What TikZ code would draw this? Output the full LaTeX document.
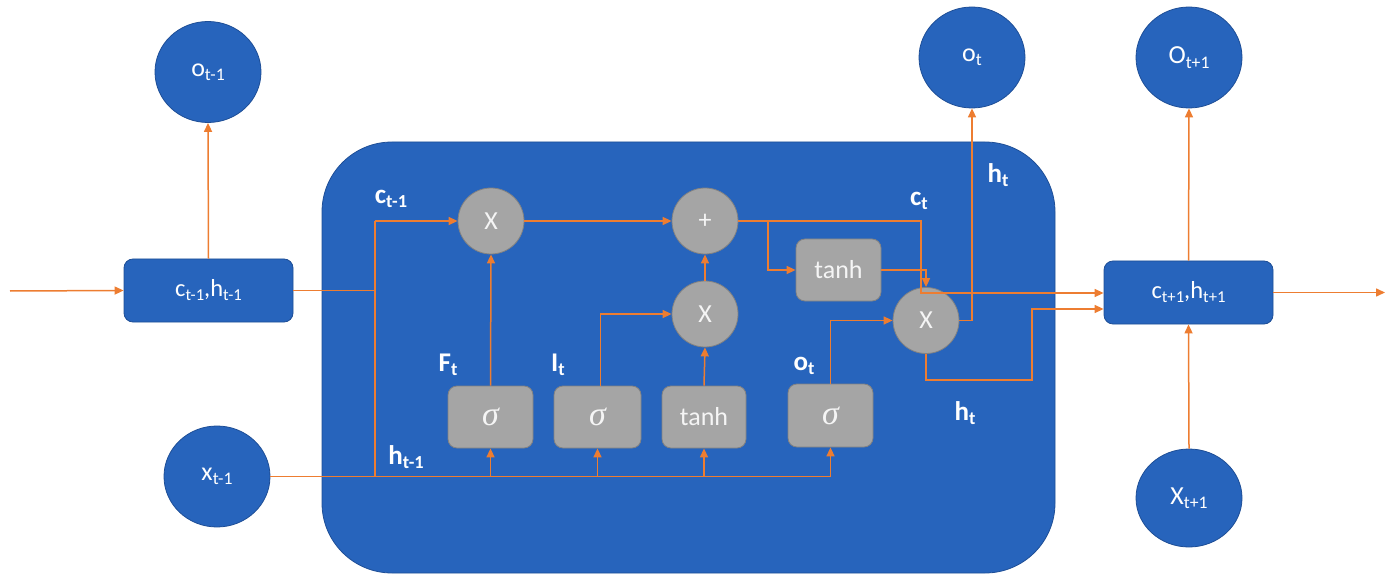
\documentclass[tikz,border=0pt]{standalone}
\usepackage{fontspec}
\setmainfont{Carlito}
\newfontfamily\sigfont{Liberation Serif}
\usepackage{graphicx}
\usetikzlibrary{arrows.meta,shapes.geometric}
\newcommand{\lowsub}[1]{\raisebox{-0.35ex}{\scalebox{0.68}{#1}}}
\newcommand{\sigsym}{{\sigfont\itshape σ}}
\definecolor{cellblue}{RGB}{39,100,188}
\definecolor{blueedge}{RGB}{30,78,150}
\definecolor{opgray}{RGB}{165,165,165}
\definecolor{opedge}{RGB}{130,130,130}
\definecolor{lineorange}{RGB}{237,125,49}
\definecolor{optext}{RGB}{245,245,245}
\tikzset{
  bluecirc/.style={ellipse, fill=cellblue, draw=blueedge, line width=0.8pt, minimum width=106, minimum height=101, inner sep=0pt, text=white, font=\fontsize{26}{30}\selectfont},
  bluebox/.style={rectangle, rounded corners=9pt, fill=cellblue, draw=blueedge, line width=0.8pt, minimum width=169, minimum height=63, inner sep=0pt, text=white, font=\fontsize{24.5}{28}\selectfont},
  opnode/.style={circle, fill=opgray, draw=opedge, line width=0.8pt, minimum size=66, inner sep=0pt, text=optext, font=\fontsize{26}{30}\selectfont},
  gate/.style={rectangle, rounded corners=9pt, fill=opgray, draw=opedge, line width=0.8pt, minimum width=85, minimum height=62, inner sep=0pt, text=optext, font=\fontsize{26}{30}\selectfont},
  sig/.style={gate, font=\fontsize{34}{38}\selectfont},
  lbl/.style={text=white, inner sep=0pt, font=\bfseries\fontsize{27}{30}\selectfont},
  flow/.style={draw=lineorange, line width=1.5pt},
  arr/.style={flow, -{Triangle[length=9pt,width=8pt]}}
}
\begin{document}
\begin{tikzpicture}[x=1pt,y=-1pt]
\useasboundingbox (0,0) rectangle (1394,577);
% big cell
\node (cell) [draw=blueedge, fill=cellblue, line width=0.8pt, rounded corners=70pt, minimum width=733, minimum height=431, inner sep=0pt] at (688.5,357.5) {};
% outer nodes
\node (ot1) [bluecirc] at (208,72) {o\lowsub{t-1}};
\node (box1) [bluebox] at (208.5,290.5) {c\lowsub{t-1},h\lowsub{t-1}};
\node (x1) [bluecirc] at (217,476.5) {x\lowsub{t-1}};
\node (ot) [bluecirc] at (972,57.5) {o\lowsub{t}};
\node (Ot1) [bluecirc] at (1189,57.5) {O\lowsub{t+1}};
\node (box2) [bluebox] at (1188.5,292.5) {c\lowsub{t+1},h\lowsub{t+1}};
\node (Xt1) [bluecirc, minimum height=98] at (1189,498) {X\lowsub{t+1}};
% operations
\node (X1) [opnode] at (491,221) {X};
\node (plus) [opnode] at (705,221) {+};
\node (X2) [opnode] at (705,314) {X};
\node (X3) [opnode] at (926,320.5) {X};
% gates
\node (sig1) [sig] at (490.5,417) {\sigsym};
\node (sig2) [sig, minimum width=87] at (597.5,417) {\sigsym};
\node (tanh1) [gate, minimum width=84] at (704,417) {tanh};
\node (sig3) [sig, minimum height=63] at (830.5,415.5) {\sigsym};
\node (tanh2) [gate] at (838.5,270) {tanh};
% labels
\node (lc1) [lbl] at (391,199) {c\lowsub{t-1}};
\node (lh1) [lbl] at (406,457) {h\lowsub{t-1}};
\node (lF) [lbl] at (448,365) {F\lowsub{t}};
\node (lI) [lbl] at (558,365) {I\lowsub{t}};
\node (lo) [lbl] at (804,366) {o\lowsub{t}};
\node (lct) [lbl] at (919,201) {c\lowsub{t}};
\node (lht1) [lbl] at (998,175) {h\lowsub{t}};
\node (lht2) [lbl] at (965,413) {h\lowsub{t}};
% coordinates
\coordinate (in) at (10,291);
\coordinate (out) at (1385,292.5);
\coordinate (jc) at (375,221);
\coordinate (ct) at (921,293);
\coordinate (br) at (768,221);
\coordinate (hb) at (1032,380);
\coordinate (hin) at (1032,309);
% connectors
\draw[arr] (in) -- (box1.west);
\draw[arr] (box1.north) -- (ot1.south);
\draw[flow] (box1.east) -- (box1.east -| jc);
\draw[flow] (jc |- x1.east) -- (jc);
\draw[arr] (jc) -- (X1.west);
\draw[arr] (x1.east) -| (sig3.south);
\draw[arr] (sig1.south |- x1.east) -- (sig1.south);
\draw[arr] (sig2.south |- x1.east) -- (sig2.south);
\draw[arr] (tanh1.south |- x1.east) -- (tanh1.south);
\draw[arr] (sig1.north) -- (X1.south);
\draw[arr] ([xshift=3pt]sig2.north) |- (X2.west);
\draw[arr] (tanh1.north) -- (X2.south);
\draw[arr] (X2.north) -- (plus.south);
\draw[arr] (X1.east) -- (plus.west);
\draw[arr] (plus.east) -| (ct) -- (ct -| box2.west);
\draw[arr] (br) |- (tanh2.west);
\draw[arr] (tanh2.east) -| (X3.north);
\draw[arr] (sig3.north) |- (X3.west);
\draw[arr] (X3.east) -| (ot.south);
\draw[arr] (X3.south) |- (hb) -- (hin) -- (hin -| box2.west);
\draw[arr] (box2.north) -- (Ot1.south);
\draw[arr] (Xt1.north) -- (box2.south);
\draw[arr] (box2.east) -- (out);
\end{tikzpicture}
\end{document}
